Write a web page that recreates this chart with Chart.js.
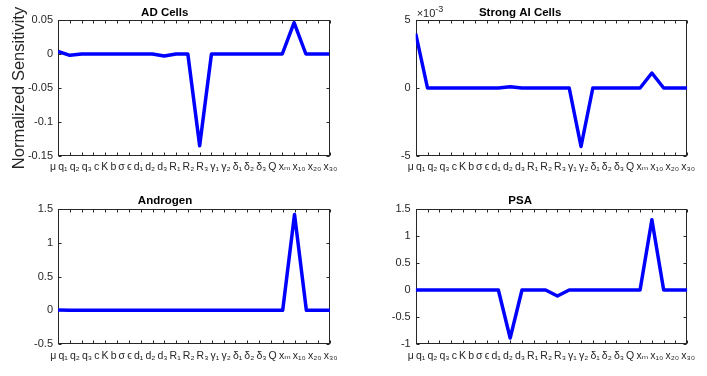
<!DOCTYPE html>
<html><head><meta charset="utf-8">
<script src="https://cdn.jsdelivr.net/npm/chart.js@4/dist/chart.umd.min.js"></script>
<style>
html,body{margin:0;padding:0;background:#fff;}
#wrap{position:relative;width:707px;height:376px;overflow:hidden;background:#fff;}
canvas{position:absolute;}
</style></head><body>
<div id="wrap">
<canvas id="c1" width="353" height="185" style="left:0;top:0"></canvas>
<canvas id="c2" width="354" height="185" style="left:353px;top:0"></canvas>
<canvas id="c3" width="353" height="188" style="left:0;top:188px"></canvas>
<canvas id="c4" width="354" height="188" style="left:353px;top:188px"></canvas>
</div>
<script>
// Parameter names (x-axis label string)
const categories = ['μ','q₁','q₂','q₃','c','K','b','σ','ϵ','d₁','d₂','d₃','R₁','R₂','R₃','γ₁','γ₂','δ₁','δ₂','δ₃','Q','xₘ','x₁₀','x₂₀','x₃₀'];

// Normalized sensitivities (visible points)
const adCells       = [0.004,-0.002,0,0,0,0,0,0,0,-0.003,0,0,-0.135,0,0,0,0,0,0,0,0.046,0,0,0];
const strongAICells = [0.004,0,0,0,0,0,0,0,0.0001,0,0,0,0,0,-0.0043,0,0,0,0,0,0.0011,0,0,0];
const androgen      = [0.005,0,0,0,0,0,0,0,0,0,0,0,0,0,0,0,0,0,0,0,1.42,0,0,0];
const psa           = [0,0,0,0,0,0,0,0,-0.89,0,0,0,-0.11,0,0,0,0,0,0,0,1.3,0,0,0];

const panelTitles = ['AD Cells','Strong AI Cells','Androgen','PSA'];
const yLabelText = 'Normalized Sensitivity';

// y ticks and labels
const adYTicks = [-0.15,-0.1,-0.05,0,0.05];
const adYLabels = ['-0.15','-0.1','-0.05','0','0.05'];
const aiYTicks = [-0.005,0,0.005];
const aiYLabels = ['-5','0','5'];
const aiExponent = ['×10','-3'];
const andYTicks = [-0.5,0,0.5,1,1.5];
const andYLabels = ['-0.5','0','0.5','1','1.5'];
const psaYTicks = [-1,-0.5,0,0.5,1,1.5];
const psaYLabels = ['-1','-0.5','0','0.5','1','1.5'];

const FONT = "'Liberation Sans', Arial, 'DejaVu Sans', sans-serif";
Chart.defaults.font.family = FONT;
Chart.defaults.color = '#262626';
const labelStr = categories.join('\u2009');

const axesBox = {
  id: 'axesBox',
  beforeDatasetsDraw(chart) {
    const {ctx, chartArea: a, scales: {x, y}} = chart;
    ctx.save();
    ctx.strokeStyle = '#262626';
    ctx.lineWidth = 1;
    const L = Math.round(a.left) + 0.5, R = Math.round(a.right) - 0.5;
    const T = Math.round(a.top) + 0.5, B = Math.round(a.bottom) - 0.5;
    ctx.beginPath();
    x.ticks.forEach((t, i) => {
      const px = Math.round(x.getPixelForTick(i)) + 0.5;
      ctx.moveTo(px, B); ctx.lineTo(px, B - 3);
      ctx.moveTo(px, T); ctx.lineTo(px, T + 3);
    });
    y.ticks.forEach((t, i) => {
      const py = Math.round(y.getPixelForTick(i)) + 0.5;
      ctx.moveTo(L, py); ctx.lineTo(L + 3, py);
      ctx.moveTo(R, py); ctx.lineTo(R - 3, py);
    });
    ctx.stroke();
    ctx.strokeRect(L, T, R - L, B - T);
    ctx.restore();
  },
  afterDraw(chart) {
    const opts = chart.options.plugins.axesBox || {};
    const {ctx, chartArea: a} = chart;
    ctx.save();
    ctx.fillStyle = '#262626';
    // parameter label string under the axes
    ctx.font = '10.5px ' + FONT;
    ctx.textAlign = 'center';
    ctx.textBaseline = 'middle';
    ctx.fillText(labelStr, (a.left + a.right) / 2, a.bottom + opts.labelOffset);
    const exp = opts.exponent;
    if (exp) {
      ctx.textBaseline = 'alphabetic';
      ctx.textAlign = 'left';
      ctx.font = '11px ' + FONT;
      const x0 = a.left + 1;
      ctx.fillText(exp[0], x0, a.top - 3);
      const w = ctx.measureText(exp[0]).width;
      ctx.font = '9px ' + FONT;
      ctx.fillText(exp[1], x0 + w, a.top - 8);
    }
    ctx.restore();
  }
};

function makePanel(id, values, title, yTicks, yLabels, lay) {
  return new Chart(document.getElementById(id), {
    type: 'line',
    data: {
      labels: categories,
      datasets: [{
        data: values,
        borderColor: '#0000ff',
        borderWidth: 3.5,
        pointRadius: 0,
        tension: 0,
        fill: false,
        borderJoinStyle: 'round',
        borderCapStyle: 'butt'
      }]
    },
    plugins: [axesBox],
    options: {
      responsive: false,
      animation: false,
      devicePixelRatio: 1,
      layout: {padding: {left: 0, right: lay.padRight, top: 0, bottom: 0}},
      plugins: {
        legend: {display: false},
        tooltip: {enabled: false},
        axesBox: {exponent: lay.exponent || null, labelOffset: lay.labelOffset},
        title: {
          display: true,
          text: title,
          color: '#000',
          font: {size: 11.5, weight: 'bold', lineHeight: 1},
          padding: {top: lay.titleTop, bottom: lay.titleBottom}
        }
      },
      scales: {
        x: {
          type: 'category',
          min: 0,
          max: values.length - 1,
          offset: false,
          grid: {display: false, drawTicks: false},
          border: {display: false},
          ticks: {display: false},
          afterFit: s => { s.height = lay.xHeight; }
        },
        y: {
          min: yTicks[0],
          max: yTicks[yTicks.length - 1],
          grid: {display: false, drawTicks: false},
          border: {display: false},
          afterBuildTicks: s => { s.ticks = yTicks.map(v => ({value: v})); },
          ticks: {
            padding: 5,
            font: {size: 11},
            color: '#262626',
            callback: (v) => yLabels[yTicks.indexOf(v)] !== undefined ? yLabels[yTicks.indexOf(v)] : ''
          },
          title: lay.yTitle ? {
            display: true,
            text: lay.yTitle,
            color: '#262626',
            font: {size: 16.5, weight: 'normal'},
            padding: {top: 10, bottom: 0}
          } : {display: false},
          afterFit: s => { s.width = lay.yWidth; }
        }
      }
    }
  });
}

makePanel('c1', adCells, panelTitles[0], adYTicks, adYLabels,
  {yWidth: 58, padRight: 23.5, titleTop: 7.5, titleBottom: 1, xHeight: 29, labelOffset: 11.5, yTitle: yLabelText});
makePanel('c2', strongAICells, panelTitles[1], aiYTicks, aiYLabels,
  {yWidth: 62.7, padRight: 19.7, titleTop: 7.5, titleBottom: 1, xHeight: 29, labelOffset: 11.5, exponent: aiExponent});
makePanel('c3', androgen, panelTitles[2], andYTicks, andYLabels,
  {yWidth: 58, padRight: 23, titleTop: 6.75, titleBottom: 2.75, xHeight: 32, labelOffset: 12.5});
makePanel('c4', psa, panelTitles[3], psaYTicks, psaYLabels,
  {yWidth: 62.7, padRight: 19.7, titleTop: 6.75, titleBottom: 2.75, xHeight: 32, labelOffset: 12.5});
</script>
</body></html>
